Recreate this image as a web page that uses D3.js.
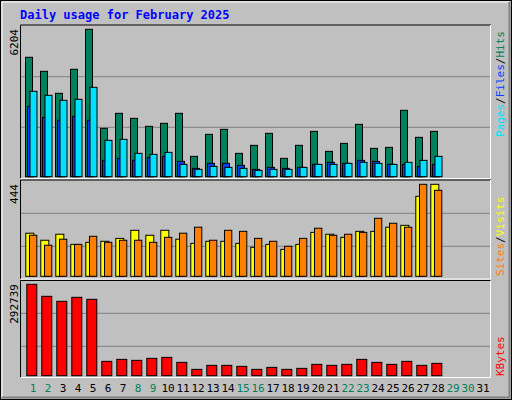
<!DOCTYPE html><html><head><meta charset="utf-8"><script src="https://cdn.jsdelivr.net/npm/d3@7"></script>
<style>body{margin:0;background:#fff}text{font-family:"DejaVu Sans Mono",monospace}</style></head><body><svg id="c" width="512" height="400"></svg><script>
const days=d3.range(1,32);
const weekendDays=[1,2,8,9,15,16,22,23,29,30];
const hits=[5026,4436,3510,4521,6204,2036,2668,2457,2120,2246,2668,856,1783,1994,983,1320,1825,772,1320,1909,1067,1404,2204,1193,1235,2794,1657,1909];
const files=[2962,2499,2373,2541,2373,688,772,688,814,856,646,351,562,562,477,309,393,351,393,519,604,562,688,646,519,519,435,519];
const pages=[3594,3426,3215,3257,3763,1530,1572,983,941,1025,519,309,435,393,351,267,309,309,393,519,519,562,604,562,519,604,688,856];
const visits=[208,174,203,154,164,169,183,222,198,222,179,159,169,169,159,140,154,130,154,212,203,188,217,217,237,246,386,444];
const sites=[198,150,179,154,193,164,174,174,164,188,208,237,174,222,217,183,169,145,183,232,198,203,212,280,256,237,444,415];
const kbytes=[292739,254275,238249,251070,244659,45941,52352,49147,55557,58762,42736,20300,33120,33120,29915,20300,26710,20300,23505,36325,33120,36325,52352,42736,36325,45941,33120,39530];
const svg=d3.select("#c");
svg.append("rect").attr("x",0.5).attr("y",0.5).attr("width",511).attr("height",399).attr("fill","#c0c0c0").attr("stroke","#000");
svg.append("path").attr("d","M2,397V2H509").attr("stroke","#fff").attr("fill","none").attr("stroke-width",1);
svg.append("path").attr("d","M2,397.5H509.5V2").attr("stroke","#808080").attr("fill","none").attr("stroke-width",2);
svg.append("text").attr("x",20).attr("y",19).attr("fill","#0000ff").attr("font-weight","bold").attr("font-size",12).text("Daily usage for February 2025");
const x=d3.scaleLinear().domain([1,32]).range([20,485]);
const panels=[{t:25,b:178.5},{t:180,b:279},{t:280.5,b:377.5}];
panels.forEach(p=>{
 svg.append("path").attr("d",`M20.5,${p.b}V${p.t}H491`).attr("stroke","#000").attr("fill","none");
 svg.append("path").attr("d",`M20.5,${p.b}H490.5V${p.t}`).attr("stroke","#fff").attr("fill","none");
});
const y1=d3.scaleLinear().domain([0,6204]).range([176.7,29.3]);
const y2=d3.scaleLinear().domain([0,444]).range([276.3,184.3]);
const y3=d3.scaleLinear().domain([0,292739]).range([375.7,284.3]);
[[76.7,127.3],[213.3,246.3],[313.3,346.3]].forEach(g=>g.forEach(yy=>svg.append("line").attr("x1",21).attr("x2",490).attr("y1",yy).attr("y2",yy).attr("stroke","#808080")));
function bars(data,y,off,w,col){
 svg.append("g").selectAll("rect").data(data).join("rect")
 .attr("x",(d,i)=>x(i+1)+off+0.5).attr("width",w).attr("y",d=>y(d)).attr("height",d=>y.range()[0]-y(d))
 .attr("fill",col).attr("stroke","#000").attr("stroke-width",1);
}
bars(hits,y1,5,7,"#00805c");
bars(files,y1,7,7,"#0040ff");
bars(pages,y1,9.5,7,"#00e0ff");
bars(visits,y2,5.3,8,"#ffff00");
bars(sites,y2,9,7.3,"#ff8000");
bars(kbytes,y3,6.3,10,"#ff0000");
function vlabel(xp,yTop,txt,col){svg.append("text").attr("transform",`translate(${xp},${yTop}) rotate(-90)`).attr("text-anchor","end").attr("font-size",11).attr("fill",col).text(txt);}
vlabel(18,29,"6204","#000");vlabel(18,184,"444","#000");vlabel(18,284,"292739","#000");
function rlabel(yBot,parts){const t=svg.append("text").attr("transform",`translate(504,${yBot}) rotate(-90)`).attr("font-size",11);parts.forEach(p=>t.append("tspan").attr("fill",p[1]).text(p[0]));}
rlabel(137,[["Pages","#00e0ff"],["/","#000"],["Files","#0040ff"],["/","#000"],["Hits","#00805c"]]);
rlabel(276,[["Sites","#ff8000"],["/","#000"],["Visits","#ffff00"]]);
rlabel(376,[["KBytes","#ff0000"]]);
svg.append("g").selectAll("text").data(days).join("text").attr("x",d=>x(d)+13).attr("y",392).attr("text-anchor","middle").attr("font-size",11)
 .attr("fill",d=>weekendDays.includes(d)?"#00805c":"#000").text(d=>d);
</script></body></html>
